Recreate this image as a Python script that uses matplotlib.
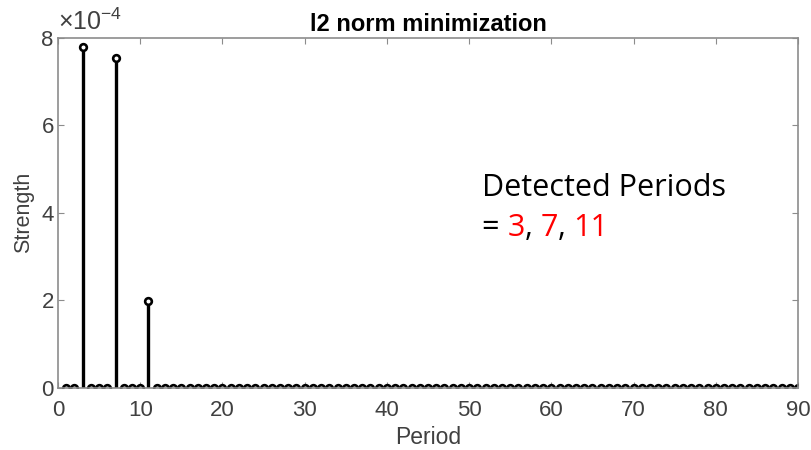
import matplotlib
matplotlib.use("Agg")
import matplotlib.pyplot as plt
import numpy as np

plt.rcParams["font.family"] = ["Liberation Sans", "DejaVu Sans"]
plt.rcParams["mathtext.fontset"] = "custom"
plt.rcParams["mathtext.rm"] = "Liberation Sans"

# Candidate periods and their l2-norm strengths (scaled by 1e-4)
periods = np.arange(1, 91)
peak_periods = [3, 7, 11]
peak_strengths = [7.78, 7.54, 1.98]
strength = np.zeros(len(periods))
for p, s in zip(peak_periods, peak_strengths):
    strength[p - 1] = s

xticks = [0, 10, 20, 30, 40, 50, 60, 70, 80, 90]
yticks = [0, 2, 4, 6, 8]

axis_gray = "#8c8c8c"
text_gray = "#404040"

fig = plt.figure(figsize=(8.11, 4.5), dpi=100)
ax = fig.add_axes([0.0715, 0.138, 0.9125, 0.778])

markerline, stemlines, baseline = ax.stem(periods, strength, basefmt=" ")
plt.setp(stemlines, color="black", linewidth=2.4)
plt.setp(markerline, marker="o", markersize=4.8, markerfacecolor="white",
         markeredgecolor="black", markeredgewidth=1.9)

ax.set_xlim(0, 90)
ax.set_ylim(0, 8)
ax.set_xticks(xticks)
ax.set_yticks(yticks)
ax.tick_params(direction="in", length=4, color=axis_gray, labelcolor=text_gray,
               labelsize=16, top=True, right=True, pad=3)
ax.tick_params(axis="x", pad=9)
for sp in ax.spines.values():
    sp.set_color(axis_gray)
    sp.set_linewidth(1.2)

ax.set_xlabel("Period", fontsize=16.5, color=text_gray, labelpad=3)
ax.set_ylabel("Strength", fontsize=15.5, color=text_gray, labelpad=5)
ax.set_title("l2 norm minimization", fontsize=17, fontweight="bold",
             color="black", pad=5)

# Exponent multiplier in the upper-left corner
ax.text(0.0, 1.008, "×10$^{-4}$", transform=ax.transAxes, fontsize=18,
        color=text_gray, ha="left", va="bottom")

# Annotation of the detected periods
ax.text(0.573, 0.571, "Detected Periods", transform=ax.transAxes,
        fontsize=22, family="Open Sans", color="black", ha="left", va="center")
x0 = 0.573
line2 = [("= ", "black"), ("3", "red"), (", ", "black"), ("7", "red"),
         (", ", "black"), ("11", "red")]
renderer = fig.canvas.get_renderer()
for txt, col in line2:
    t = ax.text(x0, 0.457, txt, transform=ax.transAxes, fontsize=22,
                family="Open Sans", color=col, ha="left", va="center")
    bb = t.get_window_extent(renderer=renderer)
    x0 += bb.width / ax.get_window_extent(renderer=renderer).width

fig.savefig("out.png", dpi=100)
